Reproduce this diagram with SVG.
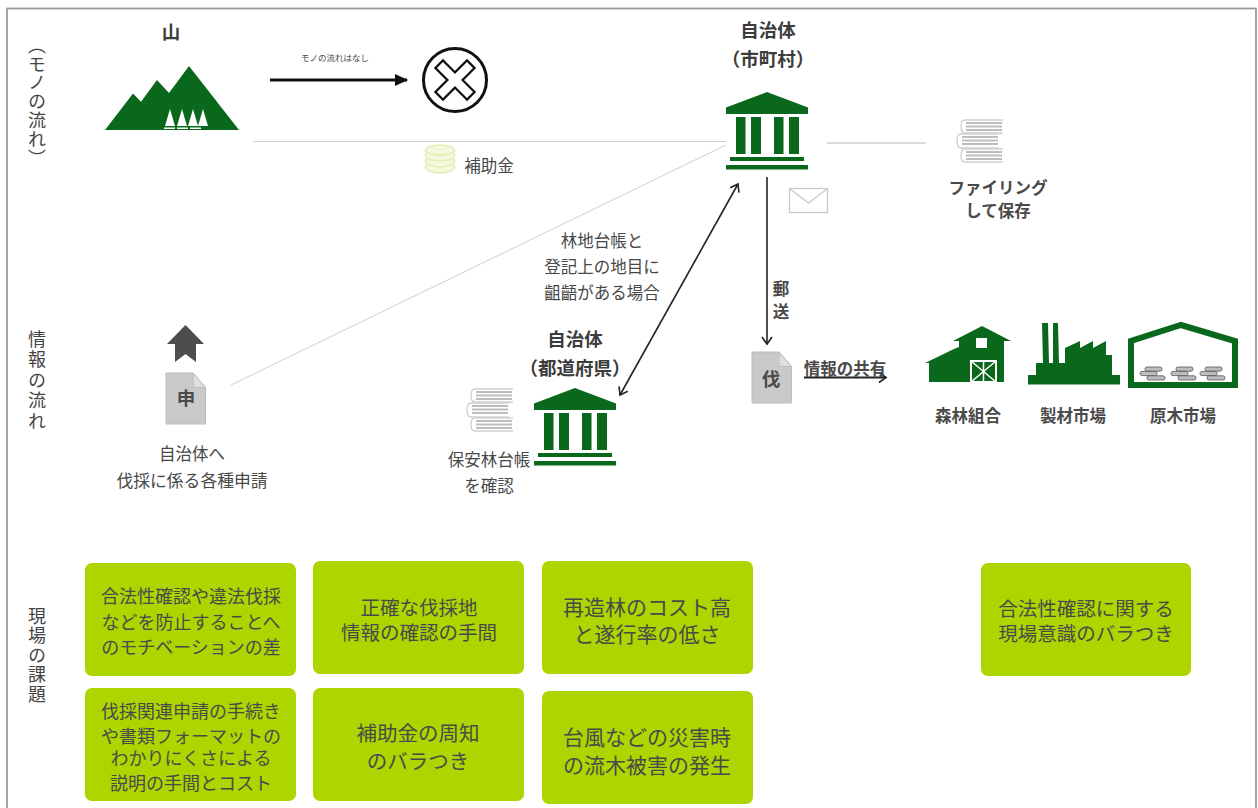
<svg xmlns="http://www.w3.org/2000/svg" xmlns:xlink="http://www.w3.org/1999/xlink" width="1258" height="808" viewBox="0 0 1258 808">
<style>
text{font-family:"Noto Sans CJK JP","Noto Sans",sans-serif;fill:#4a4a4a;text-anchor:middle;dominant-baseline:central}
.h{font-size:18.5px;font-weight:700;fill:#3c3c3c}
.b{font-size:16.500px;font-weight:400;fill:#484848}
.l{font-size:16.500px;font-weight:700;fill:#4a4a4a}
.v{writing-mode:vertical-rl;text-anchor:start;font-size:18px;fill:#444;dominant-baseline:auto}
.box{fill:#add500}
.t{fill:#43532a;font-weight:400}
.g{fill:#0a681c}
.gl{stroke:#cfcfcf;stroke-width:1;fill:none}
.ln{stroke:#222;stroke-width:1.600;fill:none}
</style>
<defs>
<marker id="solid" markerUnits="userSpaceOnUse" markerWidth="14" markerHeight="14" refX="12" refY="7" orient="auto"><path d="M0 1L13 7L0 13Z" fill="#111"/></marker>
<marker id="open" markerUnits="userSpaceOnUse" markerWidth="14" markerHeight="14" refX="11" refY="7" orient="auto-start-reverse"><path d="M4 2L11 7L4 12" fill="none" stroke="#222" stroke-width="1.600"/></marker>
<g id="temple">
<path class="g" d="M41 0L82 15.500V22H0V15.500Z"/>
<rect class="g" x="10" y="25" width="9.500" height="37"/><rect class="g" x="25" y="25" width="10" height="37"/><rect class="g" x="48" y="25" width="9.500" height="37"/><rect class="g" x="63" y="25" width="10" height="37"/>
<rect class="g" x="4" y="65" width="74" height="4"/><rect class="g" x="0" y="73" width="82" height="4.500"/>
</g>
<g id="books">
<g fill="#fff" stroke="#cfcfcf" stroke-width="1.300">
<path d="M46 1H8Q4 1 4 7.500T8 14H46"/><path d="M42 15H4Q0 15 0 22T4 29H42"/><path d="M46 30H8Q4 30 4 36.500T8 43H46"/>
</g>
<g fill="#bdbdbd">
<rect x="9" y="3" width="36" height="2"/><rect x="9" y="6.500" width="36" height="2"/><rect x="9" y="10" width="36" height="2"/>
<rect x="5" y="17" width="36" height="2"/><rect x="5" y="20.500" width="36" height="2"/><rect x="5" y="24" width="36" height="2"/>
<rect x="9" y="32" width="36" height="2"/><rect x="9" y="35.500" width="36" height="2"/><rect x="9" y="39" width="36" height="2"/>
</g>
</g>
<g id="doc">
<path d="M0 0H27L39.500 14.500V51H0Z" fill="#c9c9c9" stroke="#bcbcbc"/>
<path d="M27 0L39.500 14.500H27Z" fill="#dedede" stroke="#bcbcbc"/>
</g>
<g id="logs" fill="#bdbdbd" stroke="#555" stroke-width=".8">
<rect x="7" y="0" width="17" height="4.200" rx="2"/><rect x="2" y="4.400" width="17" height="4.200" rx="2"/><rect x="9" y="8.800" width="18" height="4.200" rx="2"/>
</g>
</defs>

<rect id="frame" x="7" y="8.500" width="1249" height="815" fill="#fff" stroke="#999" stroke-width="1.800"/>

<g id="row-labels">
<text class="v" x="37" y="36" style="letter-spacing:.8px">（モノの流れ）</text>
<text class="v" x="37" y="330" style="letter-spacing:2.500px">情報の流れ</text>
<text class="v" x="37" y="607" style="letter-spacing:1.500px">現場の課題</text>
</g>

<g id="connectors">
<line x1="270" y1="80" x2="407" y2="80" stroke="#111" stroke-width="3" marker-end="url(#solid)"/>
<line class="gl" x1="253" y1="141.500" x2="726" y2="141.500"/>
<line class="gl" x1="231" y1="385" x2="726" y2="145"/>
<line class="gl" style="stroke:#b4b4b4" x1="827" y1="143" x2="926" y2="143"/>
<line class="ln" x1="738" y1="184" x2="620" y2="395" marker-start="url(#open)" marker-end="url(#open)"/>
<line class="ln" x1="767" y1="177" x2="767" y2="344" marker-end="url(#open)"/>
<line class="ln" x1="804" y1="377.500" x2="886" y2="377.500" style="stroke-width:1.800" marker-end="url(#open)"/>
</g>

<g id="mountain">
<text class="h" x="171" y="31">山</text>
<path class="g" d="M105 130L133 93.500L141 101.700L157 80L169 93L189 66L239 130Z"/>
<g fill="#fff">
<path d="M170 109L175 126H165Z"/><path d="M182 109L187 126H177Z"/><path d="M193 109L198 126H188Z"/><path d="M203 109L208 126H198Z"/>
<rect x="164" y="127.500" width="11" height="1.500"/><rect x="177" y="127.500" width="11" height="1.500"/><rect x="190" y="127.500" width="11" height="1.500"/>
</g>
</g>

<g id="no-flow">
<text x="335" y="57" font-size="8.500">モノの流れはなし</text>
<circle cx="455" cy="80" r="31.500" fill="#fff" stroke="#111" stroke-width="3"/>
<path d="M443 68L467 92M467 68L443 92" stroke="#111" stroke-width="13" stroke-linecap="square" fill="none"/>
<path d="M443 68L467 92M467 68L443 92" stroke="#fff" stroke-width="8.500" stroke-linecap="square" fill="none"/>
</g>

<g id="subsidy">
<g fill="#f6f8dd" stroke="#e4edb4" stroke-width="1.500">
<ellipse cx="440" cy="167" rx="14.500" ry="6"/><ellipse cx="440" cy="161" rx="14.500" ry="6"/><ellipse cx="440" cy="155" rx="14.500" ry="6"/><ellipse cx="440" cy="150" rx="14.500" ry="5"/>
</g>
<text class="b" x="489" y="165">補助金</text>
</g>

<g id="municipality">
<text class="h" x="768" y="29">自治体</text>
<text class="h" x="768" y="58">（市町村）</text>
<use href="#temple" x="726" y="92"/>
</g>

<g id="filing">
<use href="#books" x="957" y="119"/>
<text class="l" x="998" y="187">ファイリング</text>
<text class="l" x="998" y="210">して保存</text>
</g>

<g id="mail">
<rect x="789.500" y="188.500" width="38" height="24" fill="#fff" stroke="#c8c8c8" stroke-width="1.300"/>
<path d="M790 189L808.500 203L827 189" fill="none" stroke="#c8c8c8" stroke-width="1.300"/>
</g>

<g id="consult-label">
<text class="b" x="602" y="240">林地台帳と</text>
<text class="b" x="602" y="266">登記上の地目に</text>
<text class="b" x="602" y="292">齟齬がある場合</text>
</g>

<g id="post-label">
<text class="l" x="781" y="288">郵</text>
<text class="l" x="781" y="311">送</text>
</g>

<g id="application">
<path d="M185.500 325L204 344H196V362L185.500 354L175 362V344H167Z" fill="#4d4d4d"/>
<use href="#doc" x="166" y="373"/>
<text class="l" x="186" y="397" style="font-size:18.500px">申</text>
<text class="b" x="192" y="453">自治体へ</text>
<text class="b" x="192" y="480" style="font-size:16.800px">伐採に係る各種申請</text>
</g>

<g id="prefecture">
<text class="h" x="575" y="338">自治体</text>
<text class="h" x="575" y="367">（都道府県）</text>
<use href="#books" x="467" y="388"/>
<use href="#temple" x="534" y="388"/>
<text class="b" x="489" y="459">保安林台帳</text>
<text class="b" x="489" y="485">を確認</text>
</g>

<g id="felling-doc">
<use href="#doc" x="752" y="352"/>
<text class="l" x="771" y="378" style="font-size:18.500px">伐</text>
<text class="l" x="845" y="367.500">情報の共有</text>
</g>

<g id="forest-coop">
<path class="g" d="M982 326L1011 341H1004V382H929V363L925 363L954 349L959 347V341H953Z"/>
<rect x="976" y="338" width="11" height="10" fill="#fff"/>
<rect x="971" y="361" width="25" height="21" fill="#0a681c" stroke="#fff" stroke-width="2"/>
<path d="M971 361L996 382M996 361L971 382M983.500 361V382" stroke="#fff" stroke-width="1.500"/>
<text class="l" x="968" y="415">森林組合</text>
</g>

<g id="sawmill">
<path class="g" d="M1028 375H1036V363H1043L1042 323H1048L1049 363H1053L1053 323H1058L1059 363H1065V348L1080 341V348L1093 341V348L1106 341V355H1112V375H1120V384.500H1028Z"/>
<text class="l" x="1073" y="415">製材市場</text>
</g>

<g id="log-market">
<path d="M1181 325L1235 341V385H1131V341Z" fill="#fff" stroke="#0a681c" stroke-width="6" stroke-linejoin="miter"/>
<use href="#logs" x="1138" y="367"/>
<use href="#logs" x="1169" y="367"/>
<use href="#logs" x="1198" y="367"/>
<text class="l" x="1183" y="415">原木市場</text>
</g>

<g id="issue-1"><rect class="box" x="85" y="563" width="211" height="113" rx="7"/>
<g class="t" font-size="18"><text x="191" y="595">合法性確認や違法伐採</text><text x="191" y="621">などを防止することへ</text><text x="191" y="646">のモチベーションの差</text></g></g>
<g id="issue-2"><rect class="box" x="313" y="561" width="211" height="113" rx="7"/>
<g class="t" font-size="19.500"><text x="419" y="606">正確な伐採地</text><text x="419" y="631">情報の確認の手間</text></g></g>
<g id="issue-3"><rect class="box" x="542" y="561" width="211" height="113" rx="7"/>
<g class="t" font-size="21"><text x="647" y="606">再造林のコスト高</text><text x="647" y="633">と遂行率の低さ</text></g></g>
<g id="issue-4"><rect class="box" x="85" y="688" width="211" height="113" rx="7"/>
<g class="t" font-size="18"><text x="191" y="710">伐採関連申請の手続き</text><text x="191" y="735">や書類フォーマットの</text><text x="191" y="757">わかりにくさによる</text><text x="191" y="782">説明の手間とコスト</text></g></g>
<g id="issue-5"><rect class="box" x="313" y="688" width="211" height="113" rx="7"/>
<g class="t" font-size="20.500"><text x="418" y="732">補助金の周知</text><text x="418" y="760">のバラつき</text></g></g>
<g id="issue-6"><rect class="box" x="542" y="691" width="211" height="113" rx="7"/>
<g class="t" font-size="21"><text x="647" y="736">台風などの災害時</text><text x="647" y="764">の流木被害の発生</text></g></g>
<g id="issue-7"><rect class="box" x="981" y="563" width="210" height="113" rx="7"/>
<g class="t" font-size="19.500"><text x="1086" y="607">合法性確認に関する</text><text x="1086" y="632">現場意識のバラつき</text></g></g>
</svg>
